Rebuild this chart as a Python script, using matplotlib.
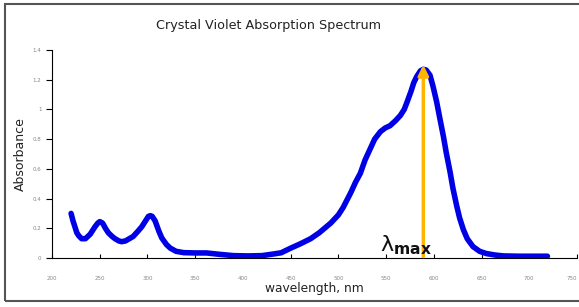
import matplotlib
matplotlib.use("Agg")
import matplotlib.pyplot as plt
from matplotlib.patches import Rectangle

wavelength = [220, 222, 224, 226, 228, 231, 235, 240, 245, 248, 250, 253, 256, 259, 263, 266, 270, 273,
              277, 281, 285, 290, 294, 298, 301, 303, 305, 308, 312, 315, 320, 324, 330, 338, 350,
              362, 375, 390, 405, 420, 432, 440, 450, 460, 471, 480, 492, 500, 505, 509, 513, 518,
              523, 528, 533, 538, 544, 549, 554, 560, 565, 569, 572, 576, 579, 582, 586, 589, 592,
              596, 599, 603, 606, 610, 613, 617, 620, 624, 627, 631, 635, 641, 648, 655, 664, 673,
              690, 705, 719]
absorbance = [0.30, 0.25, 0.21, 0.17, 0.15, 0.13, 0.13, 0.16, 0.21, 0.235, 0.245, 0.235, 0.20, 0.17,
              0.145, 0.13, 0.115, 0.11, 0.115, 0.13, 0.145, 0.18, 0.21, 0.25, 0.28, 0.285, 0.28, 0.25,
              0.18, 0.135, 0.09, 0.066, 0.045, 0.036, 0.034, 0.034, 0.025, 0.016, 0.014, 0.016, 0.027,
              0.035, 0.066, 0.095, 0.13, 0.17, 0.235, 0.29, 0.34, 0.39, 0.44, 0.51, 0.57, 0.66, 0.73,
              0.80, 0.85, 0.875, 0.89, 0.925, 0.96, 1.00, 1.05, 1.12, 1.18, 1.22, 1.26, 1.27, 1.265,
              1.23, 1.16, 1.05, 0.95, 0.82, 0.71, 0.58, 0.47, 0.35, 0.27, 0.19, 0.13, 0.077, 0.045,
              0.03, 0.02, 0.014, 0.012, 0.012, 0.012]
x_ticks = [200, 250, 300, 350, 400, 450, 500, 550, 600, 650, 700, 750]
y_ticks = [0, 0.2, 0.4, 0.6, 0.8, 1, 1.2, 1.4]
y_tick_labels = ['0', '0.2', '0.4', '0.6', '0.8', '1', '1.2', '1.4']
lambda_max = 589
arrow_top = 1.30
label_x = 544

fig = plt.figure(figsize=(5.79, 3.07), dpi=100)
fig.patches.append(Rectangle((5/579, 6/307), 1.0, 297/307, transform=fig.transFigure,
                             fill=False, edgecolor='#555555', lw=1.5))
ax = fig.add_axes([52/579, 49/307, 525/579, 208/307])
ax.plot(wavelength, absorbance, color='#0000E6', lw=4, solid_capstyle='round',
        solid_joinstyle='round')
ax.annotate('', xy=(lambda_max, arrow_top), xytext=(lambda_max, 0.01),
            arrowprops=dict(arrowstyle='-|>,head_width=0.3,head_length=0.6',
                            color='#FFB400', lw=2.5, shrinkA=0, shrinkB=0))
ax.text(label_x, 0.005, r'$\mathrm{\lambda}_{\mathbf{max}}$', fontsize=16,
        ha='left', va='bottom', color='#111111')
ax.set_xlim(200, 750)
ax.set_ylim(0, 1.4)
ax.set_xticks(x_ticks)
ax.set_yticks(y_ticks)
ax.set_xticklabels([str(t) for t in x_ticks])
ax.set_yticklabels(y_tick_labels)
ax.tick_params(axis='both', labelsize=4, labelcolor='#888888', length=3, width=0.8)
ax.tick_params(axis='x', direction='in', pad=13)
ax.tick_params(axis='y', length=4)
ax.get_xticklabels()[-1].set_horizontalalignment('right')
ax.spines['top'].set_visible(False)
ax.spines['right'].set_visible(False)
ax.set_xlabel('wavelength, nm', fontsize=8.8, color='#222222', labelpad=1)
ax.set_ylabel('Absorbance', fontsize=9, color='#222222', labelpad=4)
fig.text(268/579, 1 - 25/307, 'Crystal Violet Absorption Spectrum', fontsize=9.2,
         ha='center', va='center', color='#222222')
fig.savefig('out.png', dpi=100)
